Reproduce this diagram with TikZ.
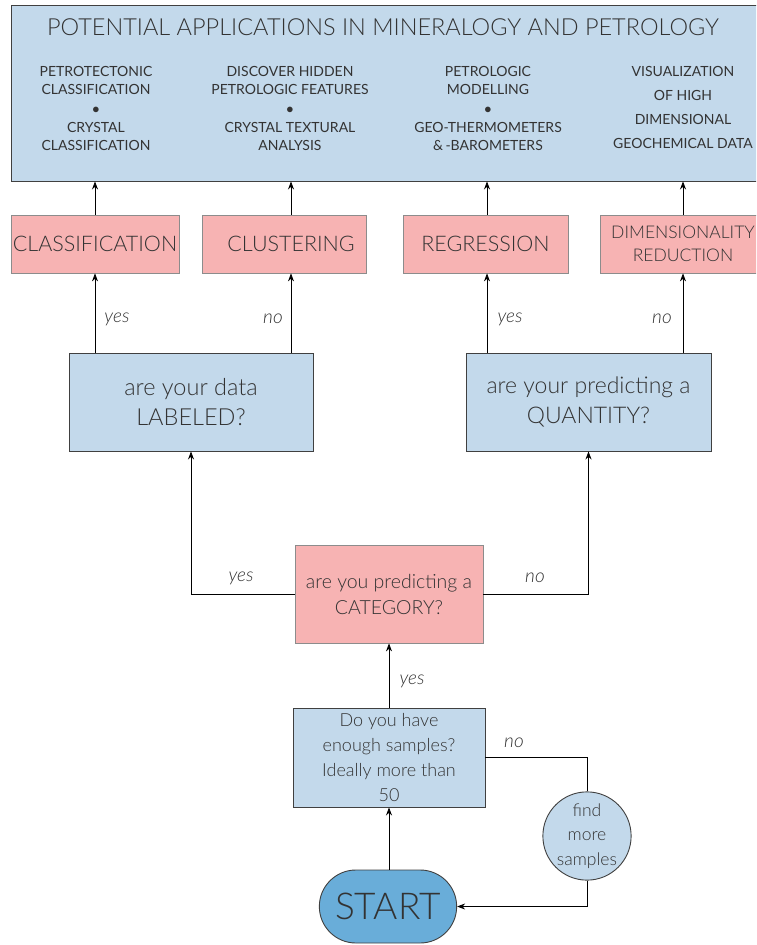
\documentclass[tikz,border=0pt]{standalone}
\usepackage{fontspec}
\setmainfont{Lato}[UprightFont={* Light},ItalicFont={* Light Italic}]
\newfontfamily\regfont{Lato}
\usetikzlibrary{arrows.meta,shapes.misc}
\definecolor{paleblue}{HTML}{C3D9EB}
\definecolor{palepink}{HTML}{F7B3B3}
\definecolor{startblue}{HTML}{69ADD9}
\definecolor{inkgray}{HTML}{333333}
\tikzset{
  arr/.style={draw=black,line width=0.8pt,-{Stealth[length=8pt,width=6pt]}},
  plain/.style={draw=black,line width=0.8pt},
  bluebox/.style={draw=black!75,line width=0.9pt,fill=paleblue,text=inkgray,align=center,inner sep=0pt},
  pinkbox/.style={draw=black!45,line width=0.8pt,fill=palepink,text=inkgray,align=center,inner sep=0pt},
  coltext/.style={align=center,text=inkgray,font=\regfont\fontsize{14}{19}\selectfont},
  ans/.style={text=inkgray,font=\itshape\fontsize{19}{22}\selectfont,inner sep=0pt},
}
\begin{document}
\begin{tikzpicture}[x=1pt,y=-1pt]
\useasboundingbox (0,0) rectangle (756,945);
\clip (0,0) rectangle (756,945);

% applications panel
\node[bluebox,minimum width=760pt,minimum height=176pt] (apps) at (391,93) {};
\node[text=inkgray,font=\fontsize{23.5}{26}\selectfont] (title) at (383,27) {POTENTIAL APPLICATIONS IN MINERALOGY AND PETROLOGY};
\node[coltext] (app1) at (96,108) {PETROTECTONIC\\[-1pt]CLASSIFICATION\\$\bullet$\\CRYSTAL\\[-1pt]CLASSIFICATION};
\node[coltext] (app2) at (290,108) {DISCOVER HIDDEN\\[-1pt]PETROLOGIC FEATURES\\$\bullet$\\CRYSTAL TEXTURAL\\[-1pt]ANALYSIS};
\node[coltext] (app3) at (488,108) {PETROLOGIC\\[-1pt]MODELLING\\$\bullet$\\GEO-THERMOMETERS\\[-1pt]\&\,-BAROMETERS};
\node[coltext,font=\regfont\fontsize{14}{24}\selectfont] (app4) at (683,107.5) {VISUALIZATION\\OF HIGH\\DIMENSIONAL\\GEOCHEMICAL DATA};

% method boxes
\node[pinkbox,minimum width=168pt,minimum height=58pt,font=\fontsize{21.5}{23}\selectfont] (cls) at (95,244) {CLASSIFICATION};
\node[pinkbox,minimum width=164pt,minimum height=58pt,font=\fontsize{21.5}{23}\selectfont] (clu) at (284,244) {\hspace*{14pt}CLUSTERING};
\node[pinkbox,minimum width=165pt,minimum height=58pt,font=\fontsize{21.5}{23}\selectfont] (reg) at (485.5,244) {REGRESSION};
\node[pinkbox,minimum width=166pt,minimum height=58pt,font=\fontsize{17.5}{23}\selectfont] (dim) at (683,244) {DIMENSIONALITY\\REDUCTION};

% question boxes
\node[bluebox,minimum width=244pt,minimum height=98pt,font=\fontsize{23.5}{30}\selectfont] (lab) at (191,402) {are your data\\LABELED?};
\node[bluebox,minimum width=245pt,minimum height=98pt,font=\fontsize{23}{30}\selectfont] (qty) at (588.5,402) {are your predicting a\\QUANTITY?};
\node[pinkbox,minimum width=188pt,minimum height=98pt,font=\fontsize{19.5}{26}\selectfont] (cat) at (389,594) {are you predicting a\\CATEGORY?};
\node[bluebox,minimum width=192pt,minimum height=99pt,font=\fontsize{18}{25}\selectfont] (smp) at (389,757.5) {Do you have\\enough samples?\\Ideally more than\\50};
\node[circle,draw=black!75,line width=0.9pt,fill=paleblue,text=inkgray,minimum size=86pt,inner sep=0pt,align=center,font=\fontsize{17.5}{24.5}\selectfont] (find) at (587,836) {find\\more\\samples};
\node[rounded rectangle,draw=black!75,line width=0.9pt,fill=startblue,text=inkgray,minimum width=144pt,minimum height=73pt,font=\fontsize{37}{40}\selectfont] (start) at (388,906.5) {START};

% connectors
\draw[arr] (start.north -| smp.south) -- (smp.south);
\draw[arr] (smp.north) -- (cat.south);
\draw[arr] (cat.west) -| (lab.south);
\draw[arr] (cat.east) -| (qty.south);
\draw[plain] (smp.east) -| (find.north);
\draw[arr] (find.south) |- (start.east);

\draw[arr] (lab.north -| cls.north) -- (cls.south);
\draw[arr] ([xshift=7pt]lab.north -| clu.north) -- ([xshift=7pt]clu.south);
\draw[arr] ([xshift=1.5pt]qty.north -| reg.north) -- ([xshift=1.5pt]reg.south);
\draw[arr] (qty.north -| dim.north) -- (dim.south);

\draw[arr] (cls.north) -- (cls.north |- apps.south);
\draw[arr] ([xshift=7pt]clu.north) -- ([xshift=7pt]clu.north |- apps.south);
\draw[arr] ([xshift=1.5pt]reg.north) -- ([xshift=1.5pt]reg.north |- apps.south);
\draw[arr] (dim.north) -- (dim.north |- apps.south);

% answer labels
\node[ans] (a1) at (117,319) {yes};
\node[ans] (a2) at (273,319) {no};
\node[ans] (a3) at (510,319) {yes};
\node[ans] (a4) at (662,319) {no};
\node[ans] (a5) at (241,578) {yes};
\node[ans] (a6) at (535,578) {no};
\node[ans] (a7) at (412,681) {yes};
\node[ans] (a8) at (514,743) {no};
\end{tikzpicture}
\end{document}
